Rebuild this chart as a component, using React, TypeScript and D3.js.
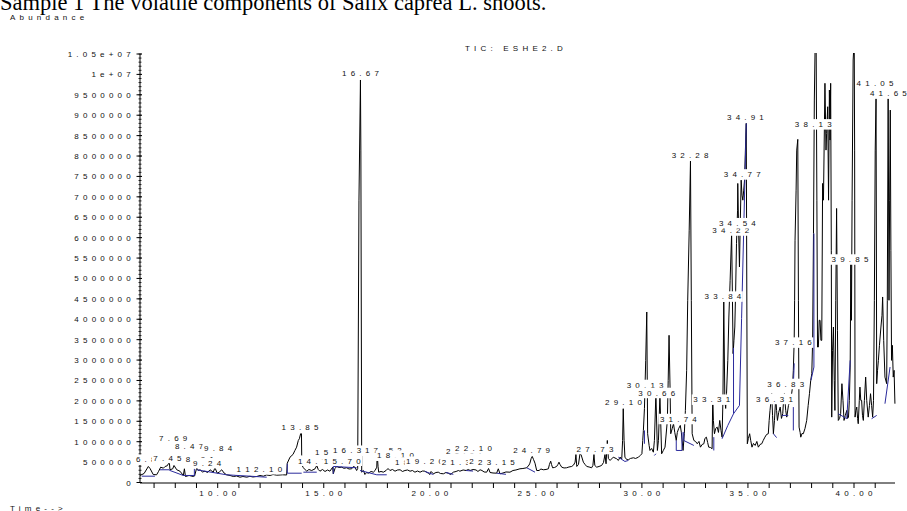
import React from 'react';
import * as d3 from 'd3';

const TITLE = 'Sample 1 The volatile components of Salix caprea L. shoots.';
const Y_LABEL = 'Abundance';
const X_LABEL = 'Time-->';
const TIC_NAME = 'TIC: ESHE2.D';

const yTickValues = [0, 500000, 1000000, 1500000, 2000000, 2500000, 3000000, 3500000, 4000000, 4500000, 5000000, 5500000, 6000000, 6500000, 7000000, 7500000, 8000000, 8500000, 9000000, 9500000, 10000000, 10500000];
const yTickLabels = ['0', '500000', '1000000', '1500000', '2000000', '2500000', '3000000', '3500000', '4000000', '4500000', '5000000', '5500000', '6000000', '6500000', '7000000', '7500000', '8000000', '8500000', '9000000', '9500000', '1e+07', '1.05e+07'];
const xTickValues = [10, 15, 20, 25, 30, 35, 40];
const xTickLabels = ['10.00', '15.00', '20.00', '25.00', '30.00', '35.00', '40.00'];

// total ion chromatogram: [retention time (min), abundance]
const ticTrace: [number, number][] = [
  [6.34, 172000], [6.53, 221000], [6.73, 393000], [6.81, 343000], [6.96, 196000], [7.12, 189000], [7.21, 270000],
  [7.31, 375000], [7.44, 351000], [7.52, 393000], [7.62, 410000], [7.72, 498000], [7.75, 312000], [7.88, 336000],
  [7.94, 417000], [8.07, 312000], [8.22, 277000], [8.38, 172000], [8.43, 336000], [8.48, 147000], [8.65, 172000],
  [8.85, 147000], [8.91, 159000], [9.01, 361000], [9.09, 294000], [9.17, 312000], [9.28, 258000], [9.40, 277000],
  [9.52, 245000], [9.64, 312000], [9.79, 253000], [9.87, 361000], [9.98, 228000], [10.08, 258000], [10.19, 312000],
  [10.30, 233000], [10.42, 189000], [10.58, 172000], [10.74, 147000], [10.89, 159000], [11.05, 130000], [11.19, 147000],
  [11.37, 130000], [11.52, 152000], [11.66, 135000], [11.84, 147000], [11.99, 172000], [12.15, 155000], [12.30, 184000],
  [12.47, 172000], [12.61, 196000], [12.78, 179000], [12.94, 184000], [13.06, 189000], [13.25, 184000],
  [13.28, 473000], [13.41, 621000], [13.55, 687000], [13.64, 785000], [13.72, 866000], [13.80, 1030000], [13.85, 1072000],
  [13.91, 1195000], [13.95, 1195000], [13.96, 662000], [14.01, 375000], [14.20, 277000], [14.30, 319000], [14.43, 294000],
  [14.59, 336000], [14.67, 417000], [14.74, 319000], [14.82, 277000], [14.94, 319000], [15.06, 270000], [15.18, 307000],
  [15.29, 277000], [15.42, 375000], [15.45, 213000], [15.53, 343000], [15.61, 393000], [15.72, 368000], [15.85, 375000],
  [15.95, 348000], [16.08, 361000], [16.19, 331000], [16.32, 336000], [16.40, 393000], [16.47, 375000], [16.55, 294000],
  [16.60, 343000], [16.66, 6918000], [16.73, 9863000], [16.75, 8146000], [16.79, 253000], [16.87, 294000], [16.94, 196000],
  [17.02, 245000], [17.10, 228000], [17.23, 270000], [17.34, 253000], [17.42, 294000], [17.50, 375000], [17.52, 704000],
  [17.56, 393000], [17.59, 253000], [17.70, 270000], [17.81, 253000], [17.94, 294000], [18.03, 343000], [18.12, 294000],
  [18.24, 319000], [18.36, 277000], [18.48, 307000], [18.60, 312000], [18.71, 270000], [18.83, 294000], [18.95, 307000],
  [19.07, 277000], [19.18, 294000], [19.30, 253000], [19.42, 282000], [19.54, 253000], [19.66, 282000], [19.77, 277000],
  [19.93, 228000], [20.01, 196000], [20.06, 270000], [20.17, 213000], [20.29, 245000], [20.40, 253000], [20.50, 221000],
  [20.64, 213000], [20.76, 245000], [20.87, 228000], [20.98, 196000], [21.11, 253000], [21.24, 270000], [21.35, 294000],
  [21.42, 277000], [21.57, 307000], [21.71, 294000], [21.82, 319000], [21.90, 294000], [22.04, 319000], [22.18, 307000],
  [22.27, 270000], [22.37, 312000], [22.46, 294000], [22.56, 258000], [22.68, 253000], [22.77, 343000], [22.84, 245000],
  [22.98, 233000], [23.15, 228000], [23.23, 336000], [23.31, 213000], [23.45, 233000], [23.59, 258000], [23.78, 253000],
  [23.92, 294000], [24.06, 307000], [24.25, 336000], [24.39, 343000], [24.57, 361000], [24.68, 429000], [24.72, 473000],
  [24.78, 589000], [24.83, 638000], [24.89, 564000], [24.96, 473000], [25.04, 294000], [25.15, 294000], [25.24, 331000],
  [25.35, 312000], [25.48, 319000], [25.59, 336000], [25.64, 442000], [25.70, 523000], [25.74, 442000], [25.79, 361000],
  [25.88, 368000], [25.98, 393000], [26.04, 442000], [26.09, 498000], [26.14, 442000], [26.22, 375000], [26.33, 356000],
  [26.45, 361000], [26.56, 380000], [26.69, 393000], [26.78, 429000], [26.85, 498000], [26.89, 687000], [26.93, 393000],
  [27.01, 442000], [27.08, 704000], [27.13, 687000], [27.24, 498000], [27.32, 442000], [27.40, 393000], [27.51, 380000],
  [27.63, 361000], [27.69, 417000], [27.74, 687000], [27.78, 417000], [27.87, 375000], [27.98, 393000], [28.10, 417000],
  [28.19, 491000], [28.26, 687000], [28.31, 459000], [28.37, 1030000], [28.42, 589000], [28.50, 540000], [28.65, 621000],
  [28.81, 581000], [28.89, 540000], [28.97, 621000], [29.05, 581000], [29.09, 1030000], [29.12, 1808000], [29.16, 1030000],
  [29.20, 621000], [29.28, 564000], [29.36, 557000], [29.46, 589000], [29.60, 606000], [29.70, 589000], [29.84, 621000],
  [29.92, 662000], [30.00, 704000], [30.04, 1030000], [30.07, 1276000], [30.12, 1815000], [30.18, 2993000], [30.23, 4178000],
  [30.27, 1195000], [30.34, 908000], [30.38, 785000], [30.46, 834000], [30.54, 743000], [30.59, 1030000], [30.66, 2176000],
  [30.73, 785000], [30.78, 1030000], [30.85, 2134000], [30.93, 704000], [31.01, 785000], [31.09, 866000], [31.20, 1521000],
  [31.24, 2502000], [31.28, 3607000], [31.33, 2257000], [31.36, 1195000], [31.43, 1325000], [31.49, 1440000], [31.55, 1227000],
  [31.62, 1030000], [31.67, 1227000], [31.73, 1317000], [31.81, 1398000], [31.86, 1227000], [31.94, 785000], [32.00, 1195000],
  [32.05, 1766000], [32.11, 2748000], [32.16, 4465000], [32.23, 6183000], [32.29, 7875000], [32.33, 4465000], [32.37, 1195000],
  [32.45, 1030000], [32.53, 1006000], [32.61, 949000], [32.69, 1006000], [32.76, 866000], [32.84, 932000], [32.92, 949000],
  [32.97, 1080000], [33.04, 1111000], [33.10, 981000], [33.15, 866000], [33.23, 859000], [33.31, 827000], [33.34, 2134000],
  [33.37, 1521000], [33.42, 1195000], [33.48, 1325000], [33.55, 1357000], [33.61, 1227000], [33.67, 1521000], [33.73, 1276000],
  [33.78, 1111000], [33.82, 2012000], [33.86, 4423000], [33.91, 2012000], [33.95, 1815000], [33.99, 2176000], [34.05, 2993000],
  [34.10, 4055000], [34.16, 4956000], [34.23, 6102000], [34.27, 4465000], [34.30, 3157000], [34.34, 3484000], [34.38, 3810000],
  [34.42, 4711000], [34.46, 5856000], [34.51, 6673000], [34.52, 7328000], [34.56, 6183000], [34.60, 5282000], [34.64, 6428000],
  [34.68, 7409000], [34.72, 7041000], [34.76, 6918000], [34.80, 7164000], [34.84, 7409000], [34.88, 8145000], [34.92, 8800000],
  [34.97, 949000], [35.02, 1080000], [35.08, 1195000], [35.13, 1030000], [35.19, 866000], [35.26, 957000], [35.34, 908000],
  [35.42, 1006000], [35.49, 866000], [35.57, 932000], [35.65, 949000], [35.72, 1030000], [35.80, 1111000], [35.88, 1178000],
  [35.96, 1195000], [36.00, 1521000], [36.04, 1766000], [36.12, 2176000], [36.16, 1644000], [36.20, 1195000], [36.25, 1521000],
  [36.31, 2093000], [36.35, 1766000], [36.39, 1521000], [36.45, 1717000], [36.52, 1848000], [36.58, 1570000], [36.64, 1685000],
  [36.68, 2012000], [36.72, 2176000], [36.78, 1766000], [36.83, 1602000], [36.91, 1889000], [36.99, 2012000], [37.05, 2134000],
  [37.10, 2338000], [37.14, 2748000], [37.18, 3484000], [37.20, 4465000], [37.22, 5937000], [37.27, 7164000], [37.30, 8145000],
  [37.35, 8408000], [37.38, 4465000], [37.41, 1357000], [37.46, 1227000], [37.49, 1111000], [37.55, 1202000], [37.61, 1195000],
  [37.69, 1325000], [37.77, 1521000], [37.84, 1889000], [37.90, 2176000], [37.96, 2502000], [38.01, 2667000], [38.05, 3484000],
  [38.09, 6102000], [38.13, 9372000], [38.17, 10844000], [38.21, 11335000], [38.25, 6918000], [38.28, 3320000], [38.32, 3320000],
  [38.36, 3975000], [38.40, 3975000], [38.44, 3484000], [38.48, 3484000], [38.52, 7328000], [38.56, 6918000], [38.63, 9782000],
  [38.68, 8145000], [38.71, 8555000], [38.76, 9208000], [38.80, 6918000], [38.84, 9617000], [38.87, 8391000], [38.90, 9782000],
  [38.93, 5692000], [38.95, 1602000], [38.99, 3238000], [39.03, 3810000], [39.07, 2502000], [39.10, 1766000], [39.14, 4465000],
  [39.18, 6715000], [39.22, 3729000], [39.26, 1521000], [39.32, 1570000], [39.37, 1685000], [39.43, 2421000], [39.48, 2012000],
  [39.53, 1521000], [39.59, 1644000], [39.66, 1766000], [39.70, 1570000], [39.74, 1602000], [39.78, 2012000], [39.82, 2829000],
  [39.85, 5366000], [39.88, 3975000], [39.91, 6918000], [39.96, 10353000], [40.01, 10844000], [40.03, 8145000], [40.05, 1602000],
  [40.09, 1766000], [40.13, 1848000], [40.17, 1570000], [40.20, 1440000], [40.25, 2012000], [40.28, 2338000], [40.32, 2012000],
  [40.36, 2012000], [40.40, 1644000], [40.44, 1521000], [40.49, 2012000], [40.55, 2583000], [40.60, 2012000], [40.67, 1602000],
  [40.73, 1889000], [40.78, 2176000], [40.83, 1889000], [40.88, 1602000], [40.92, 2012000], [40.96, 4465000], [41.00, 8145000],
  [41.04, 9453000], [41.07, 2421000], [41.11, 2748000], [41.15, 2993000], [41.20, 3361000], [41.27, 3810000], [41.32, 4097000],
  [41.35, 4546000], [41.40, 3484000], [41.46, 2583000], [41.54, 2421000], [41.57, 4465000], [41.61, 9453000], [41.65, 4465000],
  [41.68, 6918000], [41.71, 9126000], [41.74, 5692000], [41.77, 2993000], [41.81, 3361000], [41.85, 2583000], [41.89, 2748000],
  [41.93, 1931000],
];

// integration baselines (blue)
const baselineSegments: [number, number][][] = [
  [[6.42, 155000], [7.04, 155000]],
  [[7.28, 312000], [7.72, 312000]],
  [[7.72, 300000], [8.38, 172000], [8.90, 172000], [8.90, 336000]],
  [[9.01, 312000], [10.42, 189000], [12.31, 130000]],
  [[13.28, 458000], [13.28, 228000], [13.96, 228000]],
  [[14.04, 253000], [14.67, 253000]],
  [[15.45, 213000], [15.45, 393000], [16.55, 361000]],
  [[16.71, 294000], [17.50, 189000], [17.97, 189000]],
  [[19.77, 270000], [20.17, 196000]],
  [[20.76, 245000], [21.11, 200000]],
  [[21.71, 294000], [22.04, 280000]],
  [[23.15, 228000], [23.59, 200000]],
  [[24.57, 361000], [24.96, 253000]],
  [[28.89, 621000], [29.20, 515000], [29.36, 540000]],
  [[30.12, 949000], [30.12, 1276000]],
  [[30.59, 662000], [30.66, 704000]],
  [[31.62, 1030000], [31.62, 785000], [31.89, 785000], [31.89, 1234000]],
  [[31.97, 1234000], [31.97, 1030000], [32.45, 908000]],
  [[33.39, 1111000], [33.39, 785000]],
  [[33.78, 1072000], [34.05, 1398000], [34.32, 1685000], [34.60, 1889000], [34.70, 4016000], [34.92, 8800000]],
  [[34.32, 1685000], [34.32, 3300000]],
  [[36.20, 1195000], [36.35, 1100000]],
  [[36.59, 1644000], [36.90, 1644000]],
  [[37.14, 1276000], [37.14, 1848000]],
  [[37.14, 2380000], [37.18, 2920000]],
  [[37.97, 2502000], [38.11, 2829000], [38.11, 6102000]],
  [[39.26, 1685000], [39.66, 1563000], [39.82, 2993000]],
  [[40.83, 1563000], [41.07, 1644000]],
  [[41.46, 1931000], [41.70, 2829000]],
];

// peak labels: [text, anchor time, anchor abundance]
const peakLabels: [string, number, number][] = [
  ['6.85', 6.81, 417000], ['7.45', 7.63, 459000], ['7.69', 7.90, 944000], ['8.47', 8.65, 743000],
  ['8.91', 9.16, 417000], ['9.24', 9.50, 331000], ['9.84', 10.02, 694000], ['11.86', 11.76, 189000],
  ['12.10', 12.17, 189000], ['13.85', 13.88, 1209000], ['14.76', 14.65, 392000], ['15.42', 15.46, 596000],
  ['15.70', 15.87, 392000], ['16.33', 16.30, 638000], ['16.67', 16.73, 9886000], ['17.52', 17.81, 638000],
  ['18.10', 18.38, 515000], ['18.87', 19.23, 351000], ['19.20', 19.75, 368000], ['21.33', 21.43, 351000],
  ['21.97', 21.63, 613000], ['22.10', 22.06, 694000], ['22.56', 22.73, 368000], ['23.15', 23.14, 351000],
  ['24.79', 24.80, 638000], ['27.73', 27.79, 680000], ['29.10', 29.13, 1823000], ['30.13', 30.15, 2249000],
  ['30.66', 30.70, 2053000], ['31.74', 31.72, 1415000], ['32.28', 32.27, 7874000], ['33.31', 33.29, 1889000],
  ['33.84', 33.82, 4415000], ['34.22', 34.19, 6034000], ['34.54', 34.50, 6213000], ['34.77', 34.73, 7408000],
  ['34.91', 34.88, 8814000], ['36.31', 36.25, 1906000], ['36.83', 36.78, 2274000], ['37.16', 37.14, 3287000],
  ['38.13', 38.08, 8635000], ['39.85', 39.81, 5323000], ['41.05', 40.99, 9648000], ['41.65', 41.62, 9388000],
];

const FS = 8;
const LS = 4.2;
const SANS = '"Liberation Sans", Arial, sans-serif';
const GW: Record<string, number> = {
  '.': 0.278, ':': 0.278, ' ': 0.278, '+': 0.584, '-': 0.333, '>': 0.584,
  T: 0.611, I: 0.278, C: 0.722, E: 0.667, S: 0.667, H: 0.722, D: 0.722, A: 0.667,
  e: 0.556, c: 0.5, i: 0.222, m: 0.833,
};
const textWidth = (s: string) =>
  s.split('').reduce((a, ch) => a + (GW[ch] ?? 0.556) * FS, 0) + (s.length - 1) * LS;

export default function App() {
  const W = 907, H = 511;
  const x = d3.scaleLinear().domain([10, 40]).range([217.7, 854]);
  const y = d3.scaleLinear().domain([0, 10500000]).range([482.5, 54]);
  const left = 140, right = 895, top = 53, bottom = 483;
  const line = d3.line<[number, number]>().x(d => x(d[0])).y(d => y(d[1]));
  const minorY = d3.range(0, 10500001, 100000);
  const minorX = d3.range(7, 42, 1);

  const txt = { fontFamily: SANS, fontSize: FS, letterSpacing: LS, fill: '#111' } as React.CSSProperties;

  return (
    <svg width={W} height={H} style={{ position: 'absolute', left: 0, top: 0, background: '#fff' }}>
      <rect x={0} y={0} width={W} height={H} fill="#fff" />
      <text x={0} y={9.5} style={{ fontFamily: '"Liberation Serif", "Times New Roman", serif', fontSize: 22.5, fill: '#000' }}>{TITLE}</text>
      <text x={10} y={20} style={txt}>{Y_LABEL}</text>
      <text x={10} y={510.5} style={txt}>{X_LABEL}</text>
      <text x={465} y={51} style={txt}>{TIC_NAME}</text>

      {/* y axis */}
      <line x1={left} x2={left} y1={y(10500000)} y2={bottom} stroke="#000" strokeWidth={1} />
      {minorY.map(v => (
        <line key={'my' + v} x1={left - 1.5} x2={left + 1.5} y1={y(v)} y2={y(v)} stroke="#000" strokeWidth={0.8} />
      ))}
      {yTickValues.map((v, i) => (
        <g key={'yt' + v}>
          <line x1={left - 3.5} x2={left + 2} y1={y(v)} y2={y(v)} stroke="#000" strokeWidth={1} />
          <text x={130.7 - textWidth(yTickLabels[i])} y={y(v) + 3} style={txt}>{yTickLabels[i]}</text>
        </g>
      ))}

      {/* x axis */}
      <line x1={left} x2={right} y1={bottom} y2={bottom} stroke="#000" strokeWidth={1} />
      {minorX.map(t => (
        <line key={'mx' + t} x1={x(t)} x2={x(t)} y1={bottom} y2={bottom + 5} stroke="#000" strokeWidth={1} />
      ))}
      {xTickValues.map((t, i) => (
        <text key={'xt' + t} x={x(t) - textWidth(xTickLabels[i]) / 2} y={495.5} style={txt}>{xTickLabels[i]}</text>
      ))}

      <defs>
        <clipPath id="plotclip">
          <rect x={left} y={top} width={right - left + 1} height={bottom - top} />
        </clipPath>
      </defs>
      <g clipPath="url(#plotclip)">
        <path d={line(ticTrace) || ''} fill="none" stroke="#000" strokeWidth={1} strokeLinejoin="miter" />
        {baselineSegments.map((seg, i) => (
          <path key={'bl' + i} d={line(seg) || ''} fill="none" stroke="#2a2a9c" strokeWidth={1} />
        ))}
      </g>

      {peakLabels.map(([label, t, v], i) => {
        const w = textWidth(label);
        const cx = x(t);
        const base = y(v) - 3;
        return (
          <g key={'pl' + i}>
            <rect x={cx - w / 2 - 1.5} y={base - 8} width={w + 3} height={10.5} fill="#fff" />
            <text x={cx - w / 2} y={base} style={txt}>{label}</text>
          </g>
        );
      })}
    </svg>
  );
}
